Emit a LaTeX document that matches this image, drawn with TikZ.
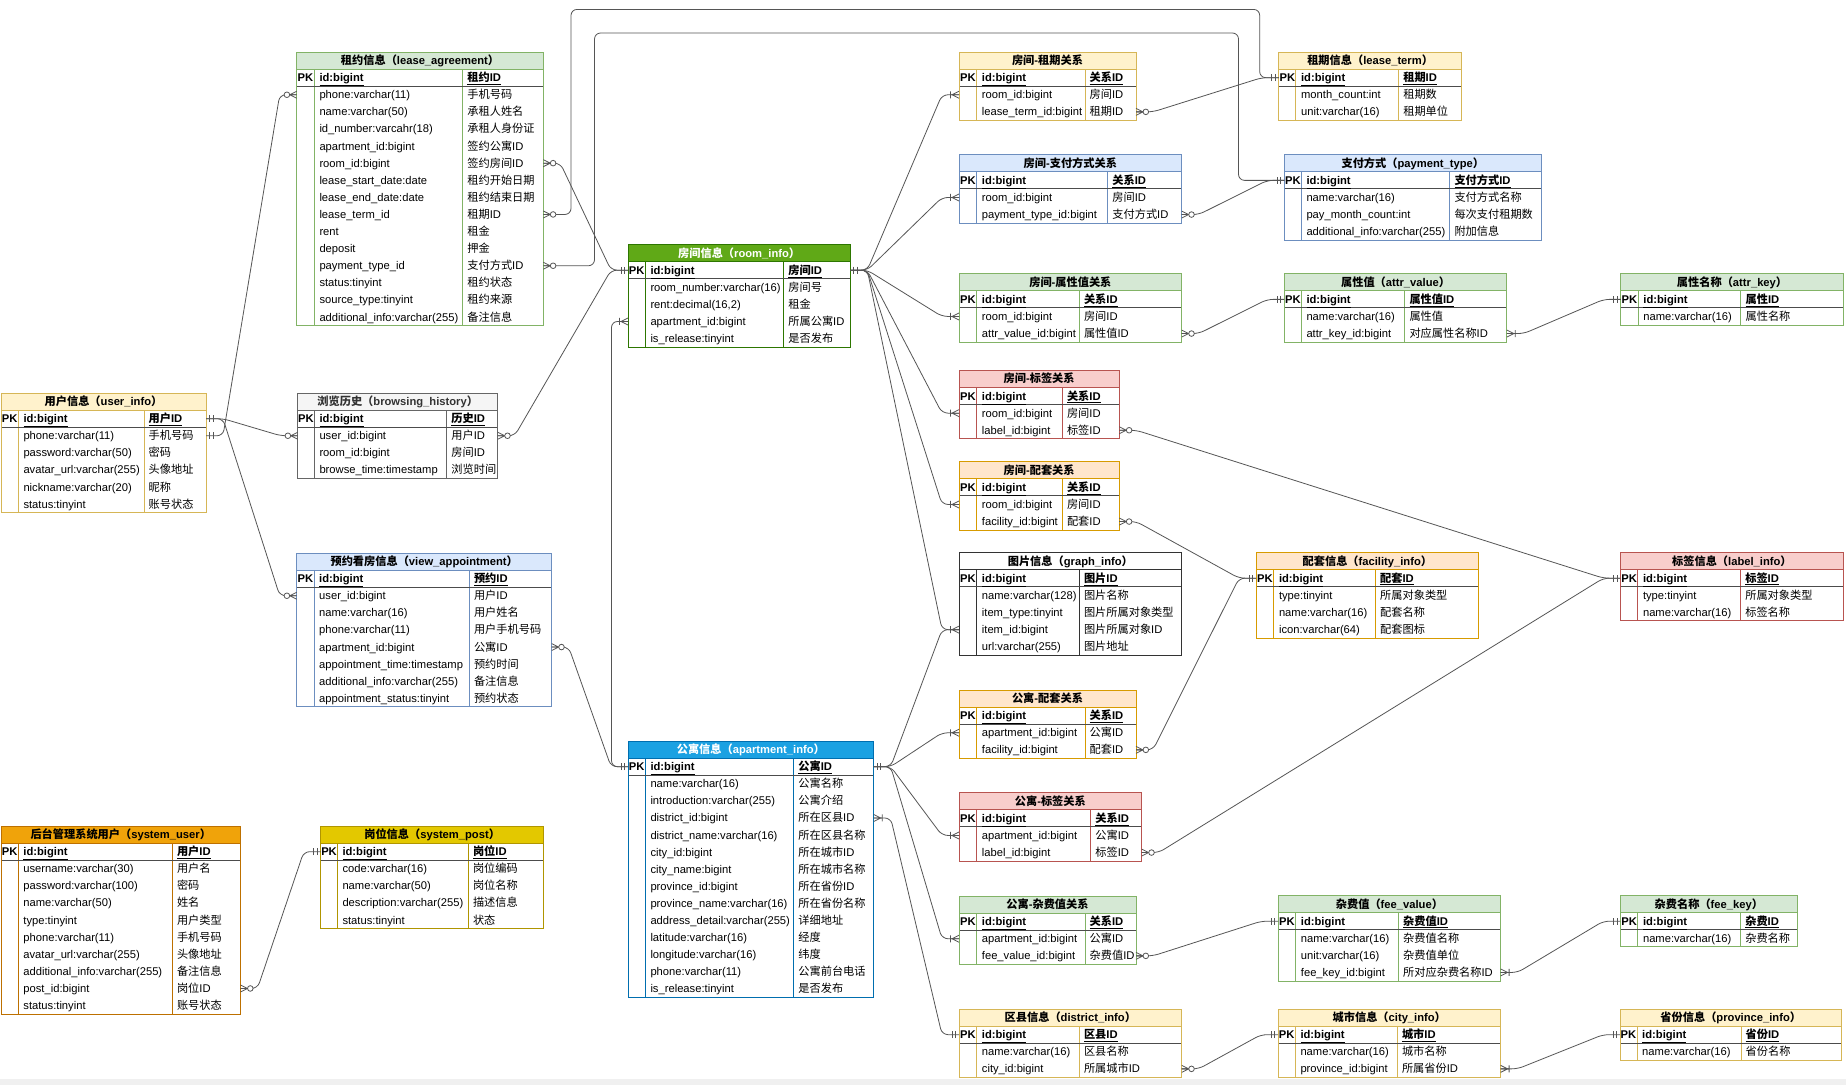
\documentclass[tikz,border=0pt]{standalone}
\usepackage{fontspec}
\setmainfont{Liberation Sans}
\newfontfamily\cjkf{Noto Sans CJK SC}
\usetikzlibrary{calc}
\XeTeXinterchartokenstate=1
\newXeTeXintercharclass\cjkcls
\newcount\cjkc
\def\setcjkrange#1#2{\cjkc=#1\relax\loop\XeTeXcharclass\cjkc=\cjkcls\advance\cjkc by 1\relax\ifnum\cjkc<#2\relax\repeat}
\setcjkrange{"3000}{"3040}
\setcjkrange{"4E00}{"A000}
\setcjkrange{"FF00}{"FFF0}
\XeTeXinterchartoks 0 \cjkcls = {\cjkf}
\XeTeXinterchartoks 4095 \cjkcls = {\cjkf}
\XeTeXinterchartoks \cjkcls 0 = {\rmfamily}
\XeTeXinterchartoks \cjkcls 4095 = {\rmfamily}

\definecolor{greenF}{HTML}{D5E8D4}\definecolor{greenS}{HTML}{82B366}\colorlet{greenT}{black}
\definecolor{yellowF}{HTML}{FFF2CC}\definecolor{yellowS}{HTML}{D6B656}\colorlet{yellowT}{black}
\definecolor{grayF}{HTML}{F5F5F5}\definecolor{grayS}{HTML}{666666}\colorlet{grayT}{black!80}
\definecolor{blueF}{HTML}{DAE8FC}\definecolor{blueS}{HTML}{6C8EBF}\colorlet{blueT}{black}
\definecolor{redF}{HTML}{F8CECC}\definecolor{redS}{HTML}{B85450}\colorlet{redT}{black}
\definecolor{orangeF}{HTML}{FFE6CC}\definecolor{orangeS}{HTML}{D79B00}\colorlet{orangeT}{black}
\definecolor{sysuF}{HTML}{F0A30A}\definecolor{sysuS}{HTML}{BD7000}\colorlet{sysuT}{black}
\definecolor{syspF}{HTML}{E3C800}\definecolor{syspS}{HTML}{B09500}\colorlet{syspT}{black}
\definecolor{roomF}{HTML}{60A917}\definecolor{roomS}{HTML}{2D7600}\colorlet{roomT}{white}
\definecolor{aptF}{HTML}{1BA1E2}\definecolor{aptS}{HTML}{006EAF}\colorlet{aptT}{white}
\definecolor{plainF}{HTML}{FFFFFF}\definecolor{plainS}{HTML}{333333}\colorlet{plainT}{black}
\definecolor{linec}{HTML}{555555}
\definecolor{pagebar}{HTML}{F0F0F0}

\newcommand\erfont{\fontsize{11.2}{13}\selectfont}
\newcommand\erh{17.1}

\def\ertable#1(#2,#3,#4,#5,#6)#7#8#9{%
  \xdef\ernlast{0}%
  \foreach \fa/\fb [count=\k from 0] in {#9}{\xdef\ernlast{\k}}%
  \pgfmathsetmacro\ybot{#6+(\ernlast+2)*\erh}%
  \pgfmathsetmacro\yt{#6+\erh}%
  \pgfmathsetmacro\yp{#6+2*\erh}%
  \pgfmathsetmacro\xm{(#2+#5)/2}%
  \pgfmathsetmacro\xk{(#2+#3)/2}%
  \fill[white] (#2,#6) rectangle (#5,\ybot);
  \fill[#7F] (#2,#6) rectangle (#5,\yt);
  \draw[#7S,erborder] (#2,\yt) -- (#5,\yt) (#3,\yt) -- (#3,\ybot) (#4,\yt) -- (#4,\ybot);
  \draw[pkline] (#2,\yp) -- (#5,\yp);
  \draw[#7S,erborder] (#2,#6) rectangle (#5,\ybot);
  \node[ertitle,text=#7T] (#1-title) at (\xm,#6+\erh/2+4) {#8};
  \foreach \fa/\fb [count=\k from 0] in {#9}{%
    \pgfmathsetmacro\yc{#6+(\k+1.5)*\erh}%
    \coordinate (#1-\k-w) at (#2,\yc);
    \coordinate (#1-\k-e) at (#5,\yc);
    \ifnum\k=0
      \node[erpk] (#1-pk) at (\xk,\yc+4) {PK};
      \node[ertxt,font=\erfont\bfseries] (#1-n\k) at (#3+5,\yc+4) {\underline{\fa}};
      \node[ertxt,font=\erfont\bfseries] (#1-c\k) at (#4+4.5,\yc+4) {\underline{\fb}};
    \else
      \node[ertxt] (#1-n\k) at (#3+5,\yc+4) {\fa};
      \node[ertxt] (#1-c\k) at (#4+4.5,\yc+4) {\fb};
    \fi
  }%
}
\newcommand\erlink[2]{\draw[erline] (#1) -- ++(17,0) -- ($(#2)+(-17,0)$) -- (#2);}
\newcommand\mR[2]{\foreach \q in {#2}{\pic at (\q) {#1};}}
\newcommand\mL[2]{\foreach \q in {#2}{\pic[rotate=180] at (\q) {#1};}}

\tikzset{
  erborder/.style={line width=0.9pt},
  pkline/.style={line width=1.1pt, draw=black!70},
  ertxt/.style={anchor=base west, inner sep=0pt, font=\erfont},
  erpk/.style={anchor=base, inner sep=0pt, font=\erfont\bfseries},
  ertitle/.style={anchor=base, inner sep=0pt, font=\erfont\bfseries},
  erline/.style={draw=linec, line width=0.8pt, rounded corners=6pt},
  ermark/.style={draw=linec, line width=0.8pt},
  erone/.pic={\draw[ermark] (3.5,-3.5)--(3.5,3.5) (7,-3.5)--(7,3.5);},
  erzmany/.pic={\draw[ermark] (0,-3.5)--(7,0)--(0,3.5) (0,0)--(7,0); \draw[ermark,fill=white] (9.8,0) circle (2.8);},
  eromany/.pic={\draw[ermark] (0,-3.5)--(7,0)--(0,3.5) (0,0)--(9,0) (8.5,-3.5)--(8.5,3.5);},
}

\begin{document}
\catcode`\_=12
\begin{tikzpicture}[x=1pt,y=-1pt]
\useasboundingbox (0,0) rectangle (1846,1085);
\fill[white] (0,0) rectangle (1846,1085);
\fill[pagebar] (0,1079) rectangle (1846,1085);

\ertable{la}(296.7,314.3,462.7,543.3,52){green}{租约信息（lease_agreement）}{id:bigint/租约ID,phone:varchar(11)/手机号码,name:varchar(50)/承租人姓名,id_number:varcahr(18)/承租人身份证,apartment_id:bigint/签约公寓ID,room_id:bigint/签约房间ID,lease_start_date:date/租约开始日期,lease_end_date:date/租约结束日期,lease_term_id/租期ID,rent/租金,deposit/押金,payment_type_id/支付方式ID,status:tinyint/租约状态,source_type:tinyint/租约来源,additional_info:varchar(255)/备注信息}

\ertable{ui}(1,18.3,144,206,393){yellow}{用户信息（user_info）}{id:bigint/用户ID,phone:varchar(11)/手机号码,password:varchar(50)/密码,avatar_url:varchar(255)/头像地址,nickname:varchar(20)/昵称,status:tinyint/账号状态}

\ertable{bh}(297.7,314.3,446.7,497.7,393){gray}{浏览历史（browsing_history）}{id:bigint/历史ID,user_id:bigint/用户ID,room_id:bigint/房间ID,browse_time:timestamp/浏览时间}

\ertable{va}(296.7,314,469.3,551.7,553){blue}{预约看房信息（view_appointment）}{id:bigint/预约ID,user_id:bigint/用户ID,name:varchar(16)/用户姓名,phone:varchar(11)/用户手机号码,apartment_id:bigint/公寓ID,appointment_time:timestamp/预约时间,additional_info:varchar(255)/备注信息,appointment_status:tinyint/预约状态}

\ertable{su}(1,18.2,172.3,240.5,826){sysu}{后台管理系统用户（system_user）}{id:bigint/用户ID,username:varchar(30)/用户名,password:varchar(100)/密码,name:varchar(50)/姓名,type:tinyint/用户类型,phone:varchar(11)/手机号码,avatar_url:varchar(255)/头像地址,additional_info:varchar(255)/备注信息,post_id:bigint/岗位ID,status:tinyint/账号状态}

\ertable{sp}(320.8,337.3,468.3,543.5,826){sysp}{岗位信息（system_post）}{id:bigint/岗位ID,code:varchar(16)/岗位编码,name:varchar(50)/岗位名称,description:varchar(255)/描述信息,status:tinyint/状态}

\ertable{ri}(628,645.3,783.7,850.3,244.5){room}{房间信息（room_info）}{id:bigint/房间ID,room_number:varchar(16)/房间号,{rent:decimal(16,2)}/租金,apartment_id:bigint/所属公寓ID,is_release:tinyint/是否发布}

\ertable{ap}(628,645.3,793.7,873.7,741){apt}{公寓信息（apartment_info）}{id:bigint/公寓ID,name:varchar(16)/公寓名称,introduction:varchar(255)/公寓介绍,district_id:bigint/所在区县ID,district_name:varchar(16)/所在区县名称,city_id:bigint/所在城市ID,city_name:bigint/所在城市名称,province_id:bigint/所在省份ID,province_name:varchar(16)/所在省份名称,address_detail:varchar(255)/详细地址,latitude:varchar(16)/经度,longitude:varchar(16)/纬度,phone:varchar(11)/公寓前台电话,is_release:tinyint/是否发布}

\ertable{rl}(959,976.7,1085,1136,52){yellow}{房间-租期关系}{id:bigint/关系ID,room_id:bigint/房间ID,lease_term_id:bigint/租期ID}
\ertable{rp}(959,976.7,1107.7,1181.7,154.7){blue}{房间-支付方式关系}{id:bigint/关系ID,room_id:bigint/房间ID,payment_type_id:bigint/支付方式ID}
\ertable{ra}(959,976.7,1079.3,1181.7,273.7){green}{房间-属性值关系}{id:bigint/关系ID,room_id:bigint/房间ID,attr_value_id:bigint/属性值ID}
\ertable{rt}(959,976.7,1062.3,1119.3,370.4){red}{房间-标签关系}{id:bigint/关系ID,room_id:bigint/房间ID,label_id:bigint/标签ID}
\ertable{rf}(959,976.7,1062.3,1119.3,461.7){orange}{房间-配套关系}{id:bigint/关系ID,room_id:bigint/房间ID,facility_id:bigint/配套ID}
\ertable{gi}(959,976.7,1079.3,1181.7,552.7){plain}{图片信息（graph_info）}{id:bigint/图片ID,name:varchar(128)/图片名称,item_type:tinyint/图片所属对象类型,item_id:bigint/图片所属对象ID,url:varchar(255)/图片地址}
\ertable{af}(959,976.7,1085,1136,690){orange}{公寓-配套关系}{id:bigint/关系ID,apartment_id:bigint/公寓ID,facility_id:bigint/配套ID}
\ertable{tg}(959,976.7,1090.7,1141.7,792.7){red}{公寓-标签关系}{id:bigint/关系ID,apartment_id:bigint/公寓ID,label_id:bigint/标签ID}
\ertable{av}(959,976.7,1085,1136,896){green}{公寓-杂费值关系}{id:bigint/关系ID,apartment_id:bigint/公寓ID,fee_value_id:bigint/杂费值ID}
\ertable{di}(959,976.7,1079.3,1181.7,1009){yellow}{区县信息（district_info）}{id:bigint/区县ID,name:varchar(16)/区县名称,city_id:bigint/所属城市ID}
\ertable{ci}(1278,1295.3,1397.3,1500.6,1009){yellow}{城市信息（city_info）}{id:bigint/城市ID,name:varchar(16)/城市名称,province_id:bigint/所属省份ID}
\ertable{pv}(1620,1637,1741,1841.5,1009){yellow}{省份信息（province_info）}{id:bigint/省份ID,name:varchar(16)/省份名称}
\ertable{lt}(1278.8,1295.9,1398.6,1461.4,52){yellow}{租期信息（lease_term）}{id:bigint/租期ID,month_count:int/租期数,unit:varchar(16)/租期单位}
\ertable{py}(1284.3,1301.3,1449.8,1541.3,154.7){blue}{支付方式（payment_type）}{id:bigint/支付方式ID,name:varchar(16)/支付方式名称,pay_month_count:int/每次支付租期数,additional_info:varchar(255)/附加信息}
\ertable{vv}(1284.3,1301.3,1404.8,1506.8,273.7){green}{属性值（attr_value）}{id:bigint/属性值ID,name:varchar(16)/属性值,attr_key_id:bigint/对应属性名称ID}
\ertable{ak}(1620.8,1638.2,1740.9,1843.3,273.7){green}{属性名称（attr_key）}{id:bigint/属性ID,name:varchar(16)/属性名称}
\ertable{fi}(1256,1273.8,1375.5,1478.7,552.5){orange}{配套信息（facility_info）}{id:bigint/配套ID,type:tinyint/所属对象类型,name:varchar(16)/配套名称,icon:varchar(64)/配套图标}
\ertable{li}(1620.4,1637.8,1740.6,1843.4,552.5){red}{标签信息（label_info）}{id:bigint/标签ID,type:tinyint/所属对象类型,name:varchar(16)/标签名称}
\ertable{fv}(1278.3,1295.7,1398.5,1500.6,895.5){green}{杂费值（fee_value）}{id:bigint/杂费值ID,name:varchar(16)/杂费值名称,unit:varchar(16)/杂费值单位,fee_key_id:bigint/所对应杂费名称ID}
\ertable{fk}(1620.4,1637.8,1740.6,1797.3,895.5){green}{杂费名称（fee_key）}{id:bigint/杂费ID,name:varchar(16)/杂费名称}

% connectors
\erlink{ui-0-e}{bh-1-w}
\erlink{ui-0-e}{va-1-w}
\erlink{ui-1-e}{la-1-w}
\erlink{la-5-e}{ri-0-w}
\erlink{bh-1-e}{ri-0-w}
\erlink{va-4-e}{ap-0-w}
\draw[erline] (ap-0-w) -- ++(-16.5,0) |- (ri-3-w);
\foreach \tb/\rw in {rl/1,rp/1,ra/1,rt/1,rf/1,gi/3}{\erlink{ri-0-e}{\tb-\rw-w}}
\foreach \tb/\rw in {gi/3,af/1,tg/1,av/1}{\erlink{ap-0-e}{\tb-\rw-w}}
\erlink{ap-3-e}{di-0-w}
\erlink{rl-2-e}{lt-0-w}
\erlink{rp-2-e}{py-0-w}
\erlink{ra-2-e}{vv-0-w}
\erlink{vv-2-e}{ak-0-w}
\erlink{rt-2-e}{li-0-w}
\erlink{rf-2-e}{fi-0-w}
\erlink{af-2-e}{fi-0-w}
\erlink{tg-2-e}{li-0-w}
\erlink{av-2-e}{fv-0-w}
\erlink{fv-3-e}{fk-0-w}
\erlink{di-2-e}{ci-0-w}
\erlink{ci-2-e}{pv-0-w}
\erlink{su-8-e}{sp-0-w}
\coordinate (ltA) at (571,9.4);
\coordinate (ltB) at (1259.7,9.4);
\coordinate (pyA) at (594.5,33);
\coordinate (pyB) at (1238.5,33);
\draw[erline] (la-8-e) -| (ltA) -- (ltB) |- (lt-0-w);
\draw[erline] (la-11-e) -| (pyA) -- (pyB) |- (py-0-w);

% end marks
\mR{erone}{ui-0-e,ui-1-e,ri-0-e,ap-0-e}
\mL{erone}{ri-0-w,ap-0-w,di-0-w,lt-0-w,py-0-w,vv-0-w,ak-0-w,li-0-w,fi-0-w,fv-0-w,fk-0-w,ci-0-w,pv-0-w,sp-0-w}
\mL{erzmany}{bh-1-w,va-1-w,la-1-w}
\mR{erzmany}{la-5-e,la-8-e,la-11-e,bh-1-e,va-4-e,rl-2-e,rp-2-e,ra-2-e,rt-2-e,rf-2-e,af-2-e,tg-2-e,av-2-e,di-2-e,su-8-e}
\mL{eromany}{ri-3-w,rl-1-w,rp-1-w,ra-1-w,rt-1-w,rf-1-w,gi-3-w,af-1-w,tg-1-w,av-1-w}
\mR{eromany}{ap-3-e,vv-2-e,fv-3-e,ci-2-e}
\end{tikzpicture}
\end{document}
